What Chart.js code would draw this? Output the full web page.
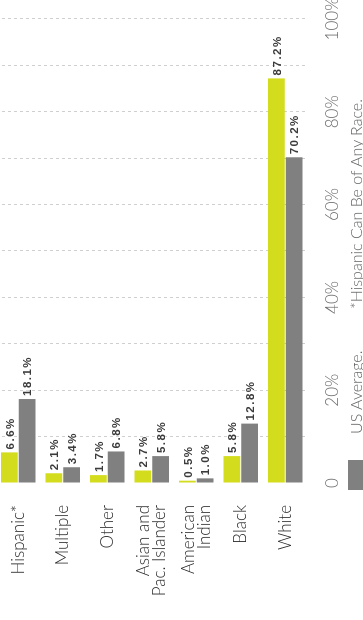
<!DOCTYPE html>
<html>
<head>
<meta charset="utf-8">
<script src="https://cdn.jsdelivr.net/npm/chart.js@4"></script>
<style>
    html, body { margin: 0; padding: 0; background: #fff; overflow: hidden; }
    #page { position: relative; width: 363px; height: 620px; overflow: hidden; }
    /* chart is laid out sideways and turned a quarter turn */
    #rot {
        position: absolute; left: 0; top: 0;
        width: 620px; height: 367px;
        transform-origin: 0 0;
        transform: translate(-4px, 620px) rotate(-90deg);
    }
    #rot canvas { position: absolute; left: 0; top: 0; }
    .legend-box { position: absolute; left: 130px; top: 352px; width: 30px; height: 20px; background: #808080; }
    .note { position: absolute; top: 350px; font: 300 16px 'Lato', sans-serif; color: #666; white-space: nowrap; }
</style>
</head>
<body>
<div id="page">
    <div id="rot">
        <canvas id="raceChart" width="620" height="367"></canvas>
        <div class="legend-box"></div>
        <div class="note" style="left:186px">US Average.</div>
        <div class="note" style="left:311px">*Hispanic Can Be of Any Race.</div>
    </div>
</div>
<script>
// Population share by race
const categories = ['Hispanic*', 'Multiple', 'Other', ['Asian and', 'Pac. Islander'], ['American', 'Indian'], 'Black', 'White'];
const localValues = [6.6, 2.1, 1.7, 2.7, 0.5, 5.8, 87.2];
const usValues = [18.1, 3.4, 6.8, 5.8, 1.0, 12.8, 70.2];
const tickValues = [0, 20, 40, 60, 80, 100];

const yellow = '#d3dc1d';
const grey = '#808080';

// Writes the value just past the end of each bar
const valueLabels = {
    id: 'valueLabels',
    afterDatasetsDraw(chart) {
        const ctx = chart.ctx;
        ctx.save();
        ctx.font = 'bold 11.5px "Liberation Sans", Arial, sans-serif';
        ctx.letterSpacing = '1.5px';
        ctx.fillStyle = '#3b3b3b';
        ctx.textAlign = 'left';
        ctx.textBaseline = 'middle';
        ctx.shadowColor = 'rgba(255,255,255,0.9)';
        ctx.shadowBlur = 4;
        chart.data.datasets.forEach((ds, i) => {
            chart.getDatasetMeta(i).data.forEach((bar, j) => {
                ctx.fillText(ds.data[j].toFixed(1) + '%', bar.x + 3, bar.y + 1);
            });
        });
        ctx.restore();
    }
};

Chart.defaults.font.family = 'Lato, sans-serif';

const ctx = document.getElementById('raceChart').getContext('2d');
const chart = new Chart(ctx, {
    type: 'bar',
    data: {
        labels: categories,
        datasets: [
            { label: 'Local', data: localValues, backgroundColor: yellow },
            { label: 'US Average.', data: usValues, backgroundColor: grey }
        ]
    },
    options: {
        indexAxis: 'y',
        responsive: false,
        animation: false,
        categoryPercentage: 0.8,
        barPercentage: 0.93,
        layout: { padding: { left: 0, right: 19, top: 0, bottom: 0 } },
        scales: {
            x: {
                min: 0,
                max: 100,
                afterFit: (scale) => {
                    scale.height = 55.5;
                    scale.paddingLeft = 0;
                    scale.paddingRight = 0;
                },
                grid: {
                    drawTicks: false,
                    color: (c) => c.tick && c.tick.value === 0 ? 'rgba(0,0,0,0)' : '#cfcfcf',
                    lineWidth: 1
                },
                border: { display: false, dash: [3, 3] },
                ticks: {
                    stepSize: 10,
                    autoSkip: false,
                    maxRotation: 0,
                    padding: 15,
                    color: '#6e6e6e',
                    font: { size: 17, weight: 300 },
                    callback: (v) => tickValues.includes(v) ? (v === 0 ? '0' : v + '%') : ''
                }
            },
            y: {
                afterFit: (scale) => {
                    scale.width = 137;
                    scale.paddingTop = 0;
                    scale.paddingBottom = 0;
                },
                border: { display: false },
                grid: { display: false },
                ticks: {
                    padding: 14,
                    color: '#2b2b2b',
                    font: { size: 17, weight: 300, lineHeight: 0.95 }
                }
            }
        },
        plugins: {
            legend: { display: false },
            tooltip: { enabled: false }
        }
    },
    plugins: [valueLabels]
});
</script>
</body>
</html>
